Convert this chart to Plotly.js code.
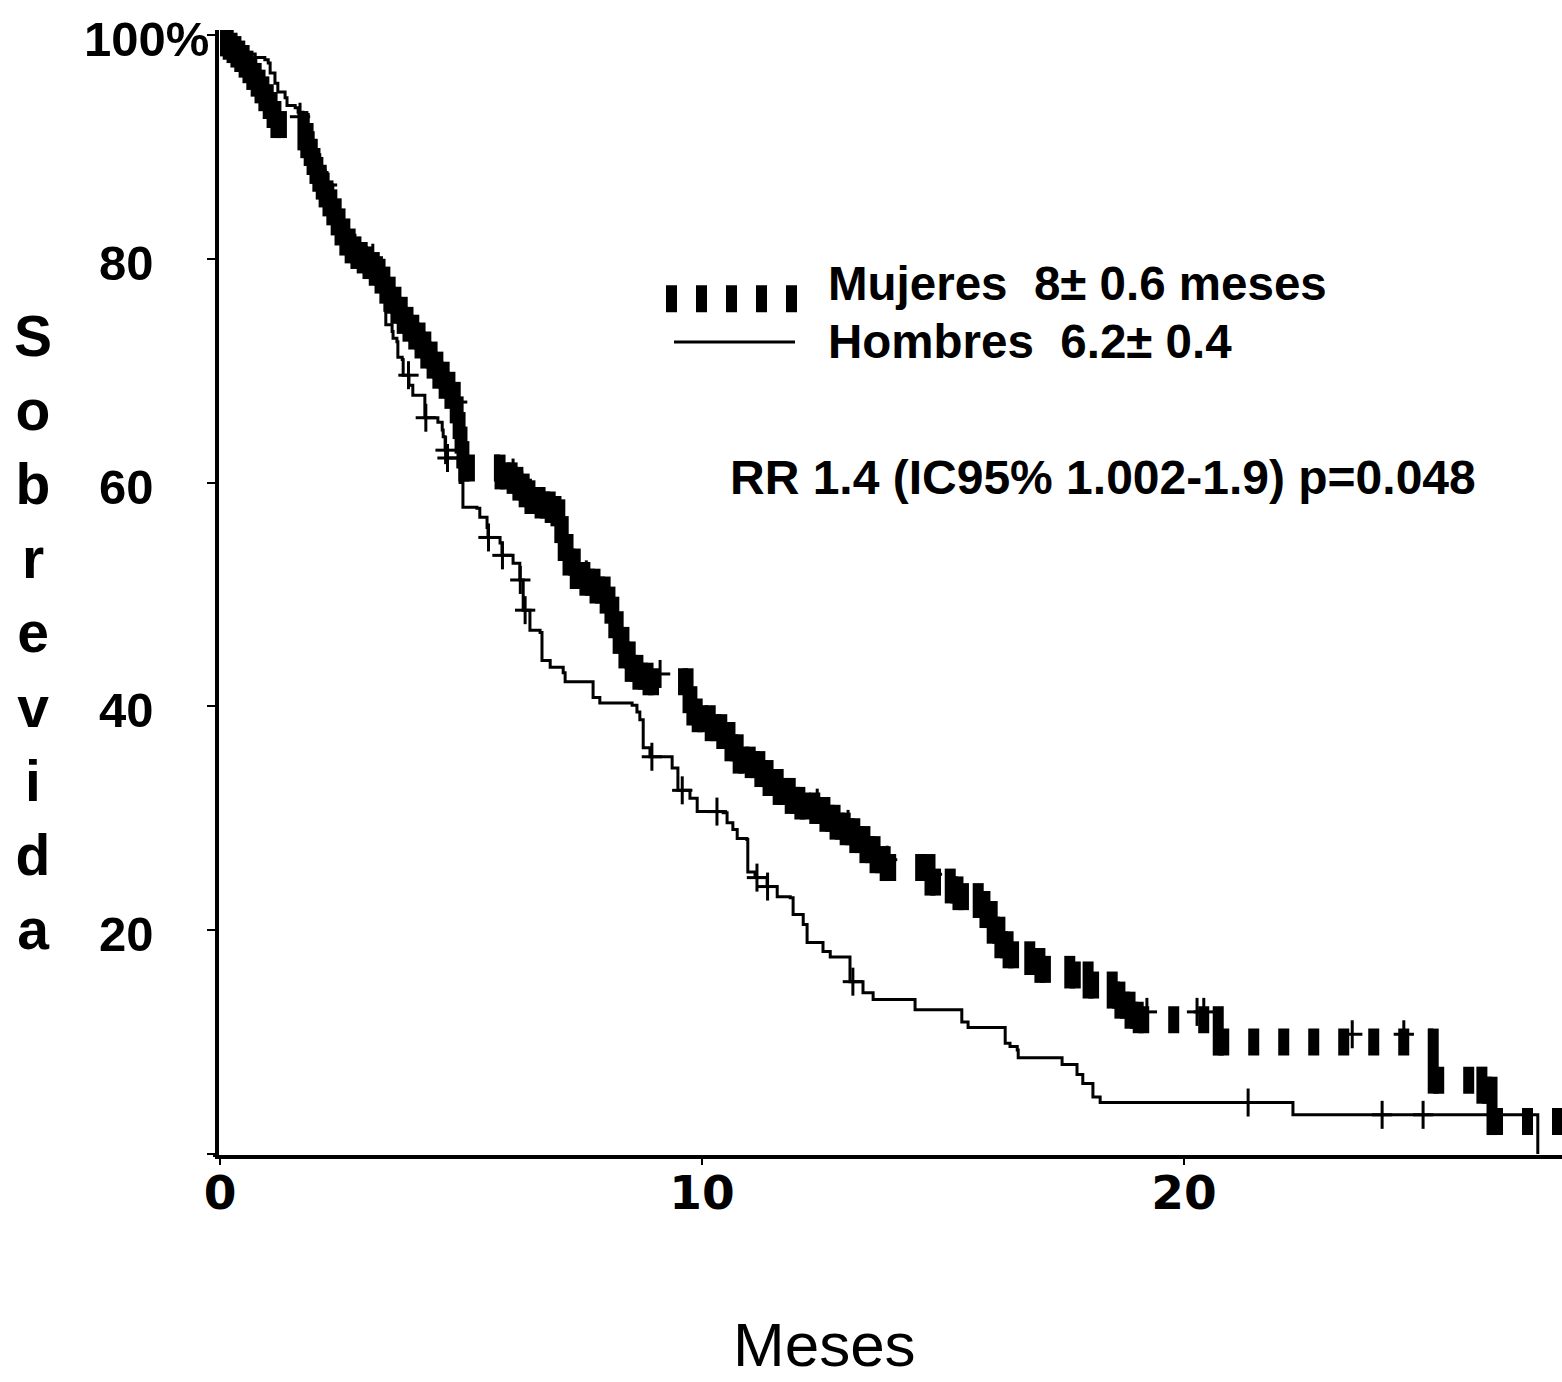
<!DOCTYPE html>
<html>
<head>
<meta charset="utf-8">
<script src="https://cdn.plot.ly/plotly-3.0.1.min.js"></script>
<style>html,body{margin:0;padding:0;background:#fff;}</style>
</head>
<body>
<div id="chart" style="width:1562px;height:1382px;"></div>
<script>
// ---------------- DATA ----------------
const mujeresMeses = [0,0.17,0.25,0.33,0.41,0.50,0.58,0.66,0.75,0.83,0.91,1.00,1.08,1.16,1.72,1.78,1.85,1.91,1.97,2.03,2.10,2.16,2.24,2.32,2.41,2.49,2.59,2.70,2.82,2.95,3.07,3.20,3.32,3.42,3.53,3.65,3.78,3.90,4.02,4.15,4.27,4.40,4.52,4.65,4.77,4.88,4.94,4.98,5.02,5.06,5.81,6.06,6.18,6.31,6.43,6.64,6.85,6.97,7.05,7.12,7.22,7.37,7.57,7.78,7.99,8.09,8.17,8.26,8.38,8.51,8.67,8.88,9.71,9.79,9.90,10.17,10.41,10.58,10.75,11.00,11.20,11.37,11.58,11.83,12.03,12.34,12.55,12.76,12.97,13.17,13.38,13.59,13.80,14.73,15.15,15.31,15.73,15.87,16.02,16.18,16.35,16.80,17.01,17.63,18.01,18.51,18.67,18.88,19.05,20.71,25.17,26.18,26.39,27.85];
const mujeresSobrevida = [100,99.7,99.4,99.0,98.6,98.1,97.6,97.0,96.4,95.8,95.1,94.4,93.6,92.7,91.6,90.9,90.2,89.4,88.6,87.9,87.2,86.5,85.7,84.9,84.0,83.1,82.2,81.5,81.0,80.6,80.1,79.5,78.8,77.9,77.0,76.1,75.2,74.5,73.8,73.0,72.1,71.2,70.3,69.4,68.5,67.2,65.8,64.5,63.2,62.0,61.3,60.9,60.3,59.7,59.1,58.7,58.3,58.0,56.5,54.9,53.6,52.4,51.8,51.1,50.2,49.3,48.0,46.6,45.3,44.1,43.4,42.9,41.3,40.2,39.6,38.8,38.1,37.0,35.9,35.5,34.7,33.9,33.1,32.3,31.8,31.4,30.7,30.0,29.5,28.8,27.9,27.0,26.3,25.0,24.3,23.7,23.0,22.1,20.7,19.4,18.5,17.9,17.2,16.7,15.8,14.9,14.0,13.1,12.7,10.7,7.3,6.4,3.6,3.6];
const mujeresCensura = [1.66,3.17,4.92,6.08,6.44,7.60,9.13,12.39,13.03,13.63,13.84,14.77,19.23,20.27,20.41,23.49,24.56];

const hombresMeses = [0,0.12,0.25,0.37,0.50,0.56,0.73,0.93,1.00,1.04,1.14,1.20,1.35,1.39,1.56,1.62,1.72,1.83,1.91,1.99,2.07,2.18,2.34,2.45,2.53,2.66,2.80,2.95,3.11,3.26,3.36,3.42,3.44,3.57,3.59,3.67,3.69,3.78,3.80,3.92,4.00,4.25,4.52,4.61,4.63,4.67,4.71,4.94,4.98,5.04,5.33,5.39,5.54,5.56,5.81,5.85,6.08,6.22,6.29,6.43,6.64,6.68,6.85,7.12,7.16,7.74,7.88,8.55,8.65,8.71,8.78,8.92,9.38,9.50,9.75,9.90,10.44,10.52,10.64,10.73,10.93,10.95,11.10,11.35,11.56,11.83,11.89,12.10,12.18,12.51,12.66,13.07,13.34,13.55,14.42,15.39,15.52,16.29,16.39,16.54,16.56,17.47,17.78,17.90,18.11,18.26,22.26,27.34];
const hombresSobrevida = [100,99.6,99.2,98.8,98.6,98.3,98.0,97.8,97.5,96.6,95.7,94.9,94.4,93.7,93.5,93.1,92.9,92.0,90.6,89.3,87.9,86.6,85.0,84.2,83.3,82.1,81.0,79.9,78.8,77.7,76.5,75.4,74.1,73.5,72.9,72.6,71.2,71.0,69.6,68.7,67.8,65.8,65.4,64.7,64.1,62.9,62.2,61.4,60.0,57.8,57.7,56.9,56.0,55.1,54.6,53.5,52.8,51.3,48.6,46.8,46.6,44.1,43.5,43.0,42.2,40.8,40.3,40.1,39.5,38.8,36.3,35.5,34.5,32.5,31.8,30.6,30.5,29.6,29.0,28.2,28.1,25.2,24.7,23.9,23.0,22.9,21.4,20.5,18.9,18.1,17.6,15.4,14.4,13.8,12.9,11.8,11.3,9.9,9.6,9.3,8.6,8.0,7.1,6.3,5.1,4.6,3.5,0];
const hombresCensura = [2.22,3.91,4.27,4.68,4.72,5.57,5.86,6.23,6.33,8.96,9.59,10.31,11.14,11.36,13.13,21.33,24.11,24.96];

const xTickVals = [0, 10, 20];
const xTickText = ["0", "10", "20"];
const yTickVals = [0, 20, 40, 60, 80, 100];
const yTickText = ["", "20", "40", "60", "80", "100%"];
const serieNombres = ["Mujeres\u00a0 8± 0.6 meses", "Hombres\u00a0 6.2± 0.4"];
const textoRR = "RR 1.4 (IC95% 1.002-1.9) p=0.048";
const tituloY = "Sobrevida";
const tituloX = "Meses";

// ---------------- LAYOUT HELPERS ----------------
const W = 1562, H = 1382, ML = 219, MR = 0, MT = 30, MB = 227;
const PW = W - ML - MR, PH = H - MT - MB;
const pxX = v => (v - ML) / PW;
const pxY = v => (H - MB - v) / PH;
const FONT = "Arial, 'Liberation Sans', Helvetica, sans-serif";
const XR = [-0.021, 27.842];
const YR = [-0.09, 100.45];
const Y_PER_PX = (YR[1] - YR[0]) / PH;
const MUJ_SHIFT = 0.7;            // drawing offset of the heavy pen stroke (y units)
const PEN_HALF = 13.5 * Y_PER_PX; // half height of the heavy pen (y units)

function stepValue(times, vals, t) {
  let v = vals[0];
  for (let i = 0; i < times.length; i++) { if (times[i] <= t) v = vals[i]; else break; }
  return v;
}

// heavy pen (tall rectangle) emulation: dashed horizontal runs + narrow vertical drops
function heavyPenTraces(ts, vs) {
  const hx = [], hy = [], vx = [], vy = [];
  for (let i = 0; i < ts.length - 1; i++) {
    hx.push(ts[i], ts[i + 1], null); hy.push(vs[i], vs[i], null);
    if (vs[i + 1] < vs[i]) {
      vx.push(ts[i + 1], ts[i + 1], null);
      vy.push(vs[i] + PEN_HALF, vs[i + 1] - PEN_HALF, null);
    }
  }
  return [
    {x: hx, y: hy, yaxis: 'y2', type: 'scatter', mode: 'lines', connectgaps: false, hoverinfo: 'skip', showlegend: false,
     name: serieNombres[0], line: {color: '#000', width: 27, dash: '11px,19px', simplify: false}},
    {x: vx, y: vy, yaxis: 'y2', type: 'scatter', mode: 'lines', connectgaps: false, hoverinfo: 'skip', showlegend: false,
     line: {color: '#000', width: 11, simplify: false}}
  ];
}

const censorTraces = (times, ts, vs) => {
  const ys = times.map(t => stepValue(ts, vs, t));
  return [
    {x: times, y: ys, type: 'scatter', mode: 'markers', hoverinfo: 'skip', showlegend: false,
     marker: {symbol: 'line-ns', size: 20, color: '#000', line: {width: 3, color: '#000'}}},
    {x: times, y: ys, type: 'scatter', mode: 'markers', hoverinfo: 'skip', showlegend: false,
     marker: {symbol: 'line-ew', size: 14.5, color: '#000', line: {width: 3, color: '#000'}}}
  ];
};

const traces = [
  ...heavyPenTraces(mujeresMeses, mujeresSobrevida),
  {x: hombresMeses, y: hombresSobrevida, type: 'scatter', mode: 'lines', name: serieNombres[1],
   line: {shape: 'hv', color: '#000', width: 3, simplify: false}, hoverinfo: 'skip', showlegend: false},
  ...censorTraces(mujeresCensura, mujeresMeses, mujeresSobrevida),
  ...censorTraces(hombresCensura, hombresMeses, hombresSobrevida)
];

const annotations = [];
yTickVals.forEach((v, i) => {
  if (!yTickText[i]) return;
  annotations.push({xref: 'paper', yref: 'y', x: yTickText[i].indexOf('%') >= 0 ? pxX(211) : pxX(156), y: v, yshift: -4,
    xanchor: 'right', yanchor: 'middle', showarrow: false, text: yTickText[i],
    font: {family: FONT, size: 49, weight: 'bold', color: '#000'}});
});
annotations.push({xref: 'paper', yref: 'paper', x: pxX(33), y: pxY(632), xanchor: 'center', yanchor: 'middle',
  showarrow: false, align: 'center', text: tituloY.split('').join('<br>'),
  font: {family: FONT, size: 57, weight: 'bold', color: '#000'}});
annotations.push({xref: 'paper', yref: 'paper', x: pxX(824), y: pxY(1344), xanchor: 'center', yanchor: 'middle',
  showarrow: false, text: tituloX, font: {family: FONT, size: 62, color: '#000'}});
annotations.push({xref: 'paper', yref: 'paper', x: pxX(826), y: pxY(283), xanchor: 'left', yanchor: 'middle',
  showarrow: false, text: serieNombres[0], font: {family: FONT, size: 47.5, weight: 'bold', color: '#000'}});
annotations.push({xref: 'paper', yref: 'paper', x: pxX(826), y: pxY(341), xanchor: 'left', yanchor: 'middle',
  showarrow: false, text: serieNombres[1], font: {family: FONT, size: 47.5, weight: 'bold', color: '#000'}});
annotations.push({xref: 'paper', yref: 'paper', x: pxX(728), y: pxY(477), xanchor: 'left', yanchor: 'middle',
  showarrow: false, text: textoRR, font: {family: FONT, size: 48, weight: 'bold', color: '#000'}});

const shapes = [
  {type: 'line', xref: 'paper', yref: 'paper', x0: pxX(666), x1: pxX(797), y0: pxY(298.7), y1: pxY(298.7),
   line: {color: '#000', width: 27, dash: '11px,19px'}},
  {type: 'line', xref: 'paper', yref: 'paper', x0: pxX(674), x1: pxX(795), y0: pxY(342), y1: pxY(342),
   line: {color: '#000', width: 3}},
  {type: 'line', xref: 'paper', yref: 'paper', x0: pxX(213), x1: pxX(219), y0: 0, y1: 0,
   line: {color: '#000', width: 4}}
];

const layout = {
  width: W, height: H,
  margin: {l: ML, r: MR, t: MT, b: MB, pad: 0},
  paper_bgcolor: '#fff', plot_bgcolor: '#fff',
  showlegend: false,
  font: {family: FONT, color: '#000'},
  xaxis: {range: XR, showline: true, linewidth: 4, linecolor: '#000',
    ticks: 'outside', ticklen: 6, tickwidth: 2, tickcolor: '#000',
    tickvals: xTickVals, ticktext: xTickText, ticklabelstandoff: -12,
    tickfont: {family: "'DejaVu Sans', Verdana, sans-serif", size: 47, weight: 'bold', color: '#000'},
    showgrid: false, zeroline: false},
  yaxis: {range: YR, showline: true, linewidth: 4, linecolor: '#000',
    ticks: 'outside', ticklen: 8, tickwidth: 2, tickcolor: '#000',
    tickvals: yTickVals, showticklabels: false, showgrid: false, zeroline: false},
  yaxis2: {range: [YR[0] + MUJ_SHIFT, YR[1] + MUJ_SHIFT], overlaying: 'y', visible: false},
  annotations: annotations,
  shapes: shapes
};

Plotly.newPlot('chart', traces, layout, {staticPlot: true, displayModeBar: false});
</script>
</body>
</html>
